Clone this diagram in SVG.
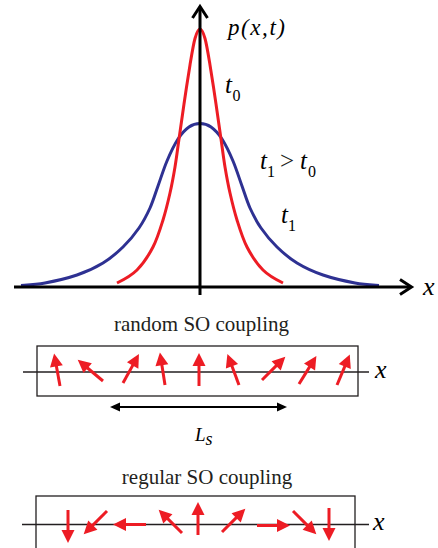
<svg xmlns="http://www.w3.org/2000/svg" xmlns:xlink="http://www.w3.org/1999/xlink" width="438" height="548" viewBox="0 0 438 548">
<style>
.ax{stroke:#000;stroke-width:3;fill:none}
.axh{stroke:#000;stroke-width:3;fill:none;stroke-linejoin:miter}
.blue{stroke:#2E3192;stroke-width:3;fill:none}
.red{stroke:#ED1C24;stroke-width:3;fill:none}
.box{stroke:#231F20;stroke-width:1.3;fill:none}
.ln{stroke:#231F20;stroke-width:1.3}
.it{font-family:"Liberation Serif","DejaVu Serif",serif;font-style:italic;fill:#000}
.sub{font-family:"Liberation Serif","DejaVu Serif",serif;font-style:normal;fill:#000;font-size:16px}
.rm{font-family:"Liberation Serif","DejaVu Serif",serif;font-style:normal;fill:#231F20}
</style>
<defs>
<g id="arr">
<line x1="0" y1="0" x2="0" y2="-21" stroke="#ED1C24" stroke-width="3"/>
<polygon points="0,-33 -6.5,-20 6.5,-20" fill="#ED1C24"/>
</g>
</defs>

<g id="plot">
<path class="blue" d="M21,285.5 C28.5,285 35.7,284.75 45,283 C54.3,281.25 67.3,278.3 77,275 C86.7,271.7 95.3,267.7 103,263 C110.7,258.3 117,252.8 123,247 C129,241.2 134.5,234.5 139,228 C143.5,221.5 146.8,215 150,208 C153.2,201 155.2,193.8 158,186 C160.8,178.2 163.7,168.8 167,161 C170.3,153.2 174.3,144.7 178,139 C181.7,133.3 185.3,129.6 189,127 C192.7,124.4 196.3,123.5 200,123.5 C203.7,123.5 207.3,124.4 211,127 C214.7,129.6 218.3,133.3 222,139 C225.7,144.7 229.7,153.2 233,161 C236.3,168.8 239.2,178.2 242,186 C244.8,193.8 246.8,201 250,208 C253.2,215 256.5,221.5 261,228 C265.5,234.5 271,241.2 277,247 C283,252.8 289.3,258.3 297,263 C304.7,267.7 313.3,271.7 323,275 C332.7,278.3 345.7,281.25 355,283 C364.3,284.75 371.5,285 379,285.5"/>
<path class="red" d="M117,283 C123.2,280 131,276 137,270 C143,264 148.7,255.3 153,247 C157.3,238.7 160.2,229 163,220 C165.8,211 168,201.8 170,193 C172,184.2 173.5,176 175,167 C176.5,158 177.5,149.5 179,139 C180.5,128.5 182.2,116.3 184,104 C185.8,91.7 188.2,75.9 190,65 C191.8,54.1 193.3,44.5 195,38.5 C196.7,32.5 198.3,29 200,29 C201.7,29 203.3,32.5 205,38.5 C206.7,44.5 208.2,54.1 210,65 C211.8,75.9 214.2,91.7 216,104 C217.8,116.3 219.5,128.5 221,139 C222.5,149.5 223.5,158 225,167 C226.5,176 228,184.2 230,193 C232,201.8 234.2,211 237,220 C239.8,229 242.7,238.7 247,247 C251.3,255.3 257,264 263,270 C269,276 276.8,280 283,283"/>
<line class="ax" x1="14" y1="287" x2="411" y2="287"/>
<line class="ax" x1="200" y1="7" x2="200" y2="295"/>
<polyline class="axh" points="192.5,18 200,6.5 207.5,18"/>
<polyline class="axh" points="400,279.5 411.5,287 400,294.5"/>
</g>

<g id="plot-labels">
<text class="it" x="228" y="35" font-size="23" textLength="57" lengthAdjust="spacing">p(x,t)</text>
<text class="it" x="225" y="93" font-size="25">t</text>
<text class="sub" x="232.5" y="100.5">0</text>
<text class="it" x="260" y="169" font-size="25">t</text>
<text class="sub" x="267" y="177">1</text>
<text class="rm" x="280" y="169" font-size="25" fill="#000">&gt;</text>
<text class="it" x="300" y="169" font-size="25">t</text>
<text class="sub" x="308" y="177">0</text>
<text class="it" x="281" y="223" font-size="25">t</text>
<text class="sub" x="288" y="231">1</text>
<text class="it" x="423" y="295" font-size="26">x</text>
</g>

<g id="random-coupling">
<text class="rm" x="201.5" y="331" font-size="21" text-anchor="middle">random SO coupling</text>
<rect class="box" x="37" y="346" width="321" height="50"/>
<line class="ln" x1="23" y1="372" x2="369" y2="372"/>
<text class="it" x="375" y="378" font-size="26">x</text>
<use xlink:href="#arr" transform="translate(60,386) rotate(-10.3)"/>
<use xlink:href="#arr" transform="translate(103,381) rotate(-50)"/>
<use xlink:href="#arr" transform="translate(123,383) rotate(28.9)"/>
<use xlink:href="#arr" transform="translate(165,385) rotate(-8.9)"/>
<use xlink:href="#arr" transform="translate(199,386) rotate(0)"/>
<use xlink:href="#arr" transform="translate(239,385) rotate(-20.6)"/>
<use xlink:href="#arr" transform="translate(262,380) rotate(45)"/>
<use xlink:href="#arr" transform="translate(299,384) rotate(31.8)"/>
<use xlink:href="#arr" transform="translate(337,385) rotate(22.8)"/>
</g>

<g id="connectors">
<line x1="117" y1="407" x2="280" y2="407" stroke="#000" stroke-width="2"/>
<polygon points="110,407 120,402.5 120,411.5" fill="#000"/>
<polygon points="287,407 277,402.5 277,411.5" fill="#000"/>
</g>

<g id="Ls-label">
<text class="it" x="195" y="441" font-size="19">L<tspan font-size="18" dy="4">s</tspan></text>
</g>

<g id="regular-coupling">
<text class="rm" x="207" y="484" font-size="21" text-anchor="middle">regular SO coupling</text>
<rect class="box" x="36" y="496" width="319" height="70"/>
<line class="ln" x1="22" y1="524.5" x2="369" y2="524.5"/>
<text class="it" x="373" y="530" font-size="26">x</text>
<use xlink:href="#arr" transform="translate(68,510) rotate(180)"/>
<use xlink:href="#arr" transform="translate(107,511) rotate(-135)"/>
<use xlink:href="#arr" transform="translate(146,524.5) rotate(-90)"/>
<use xlink:href="#arr" transform="translate(182,533) rotate(-45)"/>
<use xlink:href="#arr" transform="translate(198,535) rotate(0)"/>
<use xlink:href="#arr" transform="translate(222,532) rotate(45)"/>
<use xlink:href="#arr" transform="translate(257,525.5) rotate(90)"/>
<use xlink:href="#arr" transform="translate(293,511) rotate(135)"/>
<use xlink:href="#arr" transform="translate(329,508) rotate(180)"/>
</g>
</svg>
